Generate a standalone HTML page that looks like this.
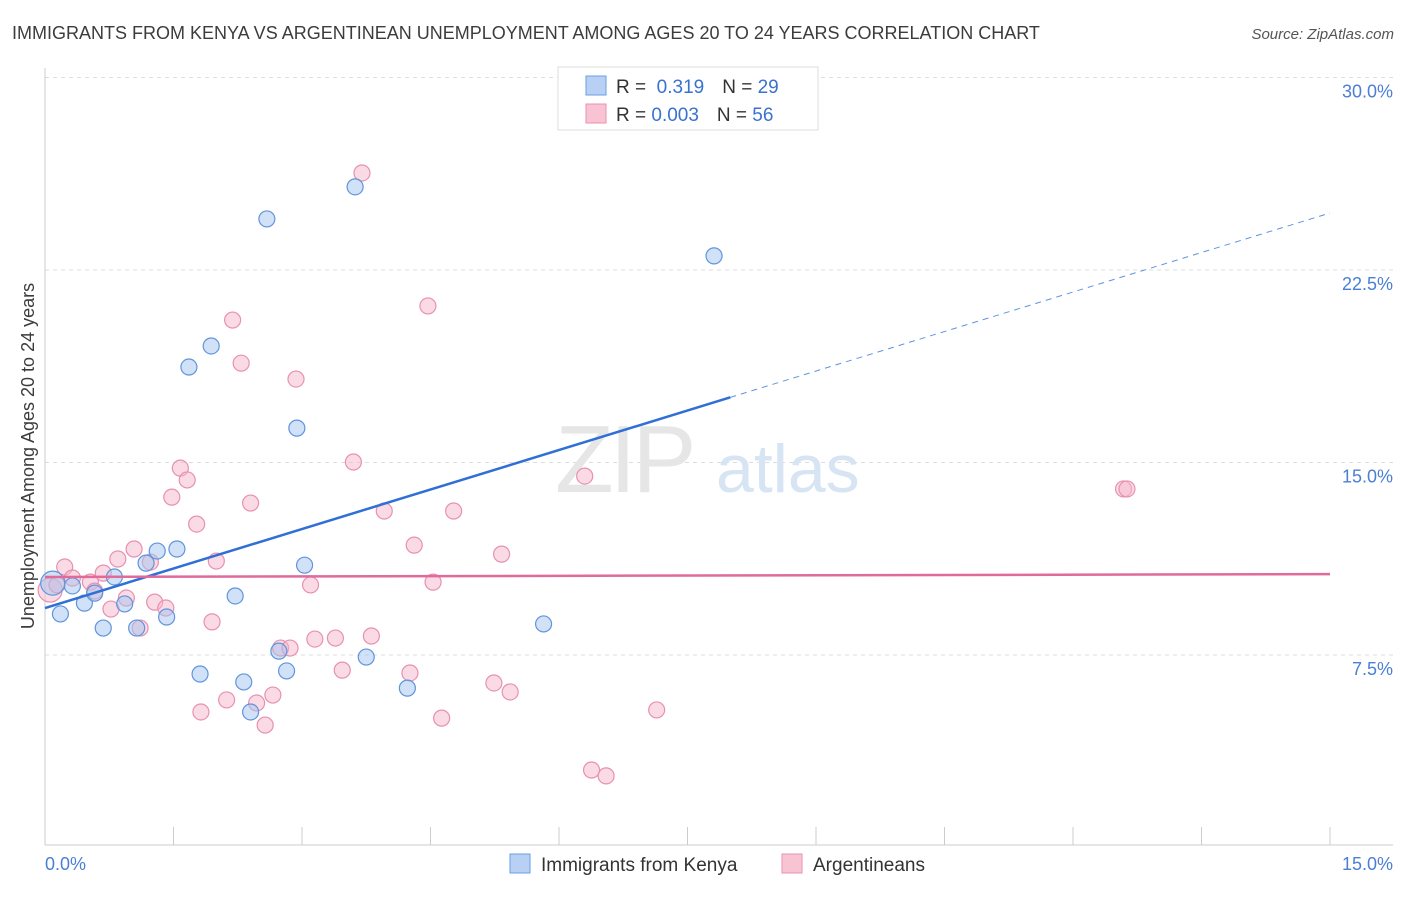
<!DOCTYPE html>
<html><head><meta charset="utf-8"><style>
body{margin:0;background:#fff;font-family:"Liberation Sans",sans-serif;}
svg text{font-family:"Liberation Sans",sans-serif;}
</style></head><body>
<svg id="chart" width="1406" height="892" xmlns="http://www.w3.org/2000/svg">
<text x="12" y="39" font-size="18" fill="#3c3c3c">IMMIGRANTS FROM KENYA VS ARGENTINEAN UNEMPLOYMENT AMONG AGES 20 TO 24 YEARS CORRELATION CHART</text>
<text x="1394" y="39" font-size="15" fill="#555" font-style="italic" text-anchor="end">Source: ZipAtlas.com</text>
<g id="grid"></g>
<g><text x="555" y="492" font-size="96" fill="#e6e6e6" font-family="Liberation Serif" letter-spacing="-4">ZIP</text><text x="716" y="492" font-size="68" fill="#d6e4f4">atlas</text></g>
<g id="marks"></g>
<text transform="translate(34,456) rotate(-90)" font-size="18" fill="#3c3c3c" text-anchor="middle">Unemployment Among Ages 20 to 24 years</text>
<text x="45" y="870" font-size="18" fill="#4a7fd4">0.0%</text>
<text x="1393" y="870" font-size="18" fill="#4a7fd4" text-anchor="end">15.0%</text>
<g>
<rect x="558" y="67" width="260" height="63" fill="#fff" stroke="#ddd"/>
<rect x="586" y="76" width="20" height="19" fill="#b8d0f4" stroke="#6a9fe0"/>
<rect x="586" y="104" width="20" height="19" fill="#f8c4d4" stroke="#e890b0"/>
<text x="616" y="93" font-size="19" fill="#333">R = <tspan fill="#3a72d0">&#160;0.319</tspan><tspan dx="18">N = </tspan><tspan fill="#3a72d0">29</tspan></text>
<text x="616" y="121" font-size="19" fill="#333">R = <tspan fill="#3a72d0">0.003</tspan><tspan dx="18">N = </tspan><tspan fill="#3a72d0">56</tspan></text>
</g>
<g>
<rect x="510" y="854" width="20" height="19" fill="#b8d0f4" stroke="#6a9fe0"/>
<text x="541" y="871" font-size="19" fill="#333">Immigrants from Kenya</text>
<rect x="782" y="854" width="20" height="19" fill="#f8c4d4" stroke="#e890b0"/>
<text x="813" y="871" font-size="19" fill="#333">Argentineans</text>
</g>
</svg>
<script>
const yTicks=[7.5,15,22.5,30];
const yTickLabels=["7.5%","15.0%","22.5%","30.0%"];
const xTicks=[0,1.5,3,4.5,6,7.5,9,10.5,12,13.5,15];
const kenyaX=[0.09,0.18,0.32,0.46,0.58,0.68,0.81,0.93,1.07,1.18,1.31,1.42,1.54,1.68,1.81,1.94,2.22,2.32,2.40,2.59,2.73,2.82,2.94,3.03,3.62,3.75,4.23,5.82,7.81];
const kenyaY=[10.30,9.10,10.19,9.52,9.91,8.55,10.54,9.49,8.55,11.08,11.55,8.98,11.63,18.72,6.76,19.54,9.80,6.45,5.28,24.49,7.65,6.88,16.34,11.00,25.74,7.42,6.21,8.71,23.05];
const argX=[0.06,0.14,0.23,0.32,0.53,0.58,0.68,0.77,0.85,0.95,1.04,1.11,1.23,1.28,1.41,1.48,1.58,1.66,1.77,1.82,1.95,2.00,2.12,2.19,2.29,2.40,2.47,2.57,2.66,2.75,2.86,2.93,3.10,3.15,3.39,3.47,3.60,3.70,3.81,3.96,4.26,4.31,4.47,4.53,4.63,4.77,5.24,5.33,5.43,6.30,6.38,6.55,7.14,12.59,12.63];
const argY=[10.03,10.23,10.93,10.50,10.34,9.99,10.69,9.29,11.24,9.72,11.63,8.55,11.12,9.56,9.33,13.65,14.78,14.32,12.60,5.28,8.79,11.16,5.75,20.55,18.87,13.42,5.63,4.77,5.94,7.77,7.77,18.25,10.23,8.12,8.16,6.91,15.02,26.28,8.24,13.11,6.80,11.78,21.10,10.34,5.04,13.11,6.41,11.43,6.06,14.47,3.02,2.79,5.36,13.97,13.97];
const kenyaTrend=[9.33,24.72];
const argTrend=[10.54,10.65];
const kenyaSolidEnd=8.0;
const NS="http://www.w3.org/2000/svg";
const X=v=>45+v*(1285/15);
const Y=v=>847.5-v*(192.5/7.5);
const grid=document.getElementById('grid'),marks=document.getElementById('marks');
function mk(tag,at,parent){const e=document.createElementNS(NS,tag);for(const k in at)e.setAttribute(k,at[k]);parent.appendChild(e);return e;}
yTicks.forEach((t,i)=>{
 const l=mk('line',{x1:45,x2:1393,y1:Y(t),y2:Y(t),stroke:'#ddd','stroke-dasharray':'4,4'},grid);
 
 
 const tx=mk('text',{x:1393,y:Y(t)+20,'font-size':18,fill:'#4a7fd4','text-anchor':'end'},grid);
 tx.textContent=yTickLabels[i];
 
 
});
const ax=mk('line',{x1:45,x2:45,y1:68,y2:845,stroke:'#ccc'},grid);


const bx=mk('line',{x1:45,x2:1393,y1:845,y2:845,stroke:'#ccc'},grid);


xTicks.forEach(t=>{
 const l=mk('line',{x1:X(t),x2:X(t),y1:827,y2:845,stroke:'#ccc'},grid);
 
 
});
function pts(xs,ys,fill,stroke,name){
 xs.forEach((x,i)=>{
  const c=mk('circle',{cx:X(x),cy:Y(ys[i]),r:i===0?12:8,fill:fill,'fill-opacity':0.5,stroke:stroke,'stroke-width':1.2},marks);
  
  
 });
}
pts(argX,argY,'#f5b8cc','#e890b0','argentineans-point');
pts(kenyaX,kenyaY,'#a4c4f0','#5f95dc','kenya-point');
const ky=x=>kenyaTrend[0]+(kenyaTrend[1]-kenyaTrend[0])*x/15;
const k1=mk('line',{x1:X(0),y1:Y(ky(0)),x2:X(kenyaSolidEnd),y2:Y(ky(kenyaSolidEnd)),stroke:'#2f6fd6','stroke-width':2.5},marks);


const k2=mk('line',{x1:X(kenyaSolidEnd),y1:Y(ky(kenyaSolidEnd)),x2:X(15),y2:Y(ky(15)),stroke:'#5f95dc','stroke-width':1,'stroke-dasharray':'6,5'},marks);


const a1=mk('line',{x1:X(0),y1:Y(argTrend[0]),x2:X(15),y2:Y(argTrend[1]),stroke:'#e06a9a','stroke-width':2.5},marks);


</script>
</body></html>
